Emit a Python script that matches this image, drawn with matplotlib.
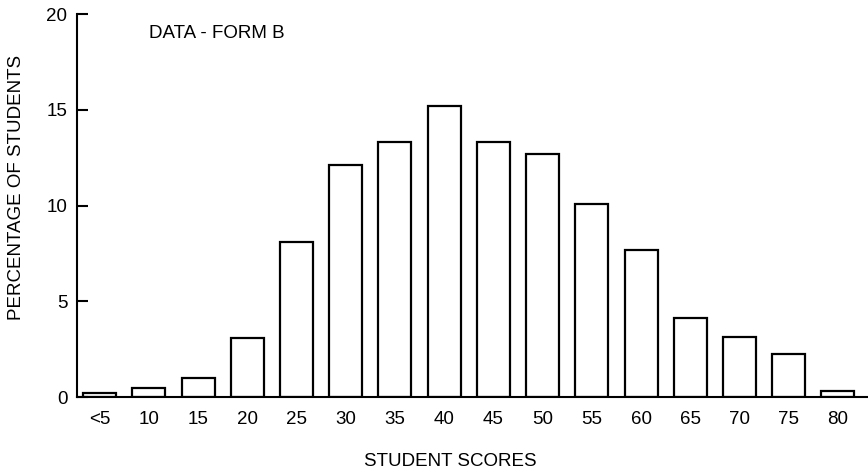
import matplotlib
matplotlib.use("Agg")
import matplotlib.pyplot as plt

plt.rcParams['font.family'] = ['Liberation Sans', 'DejaVu Sans']

scores = ["<5", "10", "15", "20", "25", "30", "35", "40", "45", "50",
          "55", "60", "65", "70", "75", "80"]
percent = [0.2, 0.45, 1.0, 3.1, 8.1, 12.1, 13.3, 15.2, 13.3, 12.7,
           10.1, 7.7, 4.1, 3.15, 2.25, 0.3]
yticks = [0, 5, 10, 15, 20]

fig = plt.figure(figsize=(8.68, 4.75), dpi=100)
ax = fig.add_axes([0.0887, 0.1642, 0.9101, 0.8063])

x = range(len(scores))
ax.bar(x, percent, width=0.67, color="white", edgecolor="black", linewidth=1.6)

ax.set_xlim(-0.46, 15.59)
ax.set_ylim(0, 20)
ax.set_yticks(yticks)
ax.set_xticks(list(x))
ax.set_xticklabels(scores)
ax.tick_params(axis="y", direction="in", length=8, width=1.5, labelsize=13.5, pad=7)
ax.tick_params(axis="x", length=0, labelsize=13.5, pad=10)

for s in ["top", "right"]:
    ax.spines[s].set_visible(False)
ax.spines["left"].set_linewidth(1.5)
ax.spines["bottom"].set_linewidth(1.5)

ax.set_ylabel("PERCENTAGE OF STUDENTS", fontsize=13.5)
ax.yaxis.set_label_coords(-0.066, 0.548)
ax.set_xlabel("STUDENT SCORES", fontsize=13.5)
ax.xaxis.set_label_coords(0.472, -0.145)

ax.text(1.0, 19.0, "DATA - FORM B", fontsize=13.5, ha="left", va="center")

fig.savefig("out.png", dpi=100)
